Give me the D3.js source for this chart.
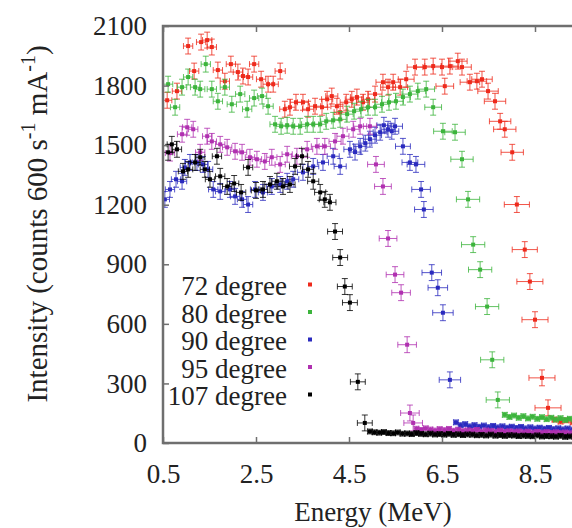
<!DOCTYPE html>
<html>
<head>
<meta charset="utf-8">
<script src="https://cdn.jsdelivr.net/npm/d3@7"></script>
<style>
  body { margin: 0; background: #fff; }
  svg { display: block; }
  text { font-family: "Liberation Serif", "Times New Roman", serif; fill: #222; }
</style>
</head>
<body>
<svg id="chart" width="572" height="528"></svg>
<script>
// Spectra: [energy (MeV), intensity, energy half-width (MeV)]
const deg72 = [
  [0.59,1726,0.10],[0.80,1772,0.10],[1.04,1999,0.10],[1.17,1873,0.10],[1.32,2019,0.10],
  [1.45,2029,0.10],[1.55,1994,0.10],[1.68,1878,0.10],[1.83,1822,0.10],[1.96,1908,0.10],
  [2.11,1868,0.10],[2.22,1848,0.10],[2.33,1843,0.10],[2.46,1908,0.10],[2.61,1832,0.10],
  [2.76,1807,0.11],[2.87,1807,0.11],[3.02,1873,0.11],[3.12,1681,0.11],[3.23,1691,0.11],
  [3.36,1716,0.12],[3.51,1716,0.12],[3.62,1681,0.12],[3.77,1696,0.12],[3.92,1691,0.12],
  [4.03,1731,0.12],[4.13,1747,0.13],[4.24,1696,0.13],[4.31,1666,0.13],[4.44,1716,0.13],
  [4.56,1731,0.14],[4.67,1742,0.14],[4.80,1716,0.14],[4.91,1731,0.14],[5.06,1757,0.15],
  [5.23,1817,0.15],[5.34,1792,0.16],[5.45,1817,0.16],[5.60,1792,0.16],[5.73,1832,0.17],
  [5.92,1893,0.17],[6.13,1893,0.18],[6.31,1898,0.18],[6.50,1893,0.19],[6.56,1797,0.19],
  [6.67,1898,0.19],[6.84,1923,0.20],[6.93,1893,0.20],[7.10,1817,0.21],[7.25,1822,0.21],
  [7.36,1832,0.22],[7.49,1772,0.22],[7.64,1721,0.23],[7.75,1620,0.23],[7.85,1580,0.24],
  [8.01,1464,0.24],[8.11,1201,0.27],[8.28,974,0.27],[8.39,813,0.28],[8.50,621,0.28],
  [8.65,328,0.28],[8.78,177,0.28]
];
const deg80 = [
  [0.61,1807,0.10],[0.76,1691,0.10],[0.91,1792,0.10],[1.04,1843,0.10],[1.19,1792,0.10],
  [1.30,1782,0.10],[1.42,1908,0.10],[1.55,1782,0.10],[1.68,1721,0.10],[1.83,1792,0.10],
  [1.98,1706,0.10],[2.16,1757,0.10],[2.31,1681,0.10],[2.46,1737,0.10],[2.63,1747,0.10],
  [2.76,1696,0.11],[2.91,1605,0.11],[3.04,1595,0.11],[3.17,1600,0.11],[3.30,1595,0.12],
  [3.45,1595,0.12],[3.60,1605,0.12],[3.73,1605,0.12],[3.88,1605,0.12],[4.01,1620,0.12],
  [4.16,1625,0.13],[4.31,1630,0.13],[4.46,1656,0.13],[4.61,1671,0.14],[4.76,1681,0.14],
  [4.91,1691,0.14],[5.06,1691,0.15],[5.21,1706,0.15],[5.36,1716,0.16],[5.51,1721,0.16],
  [5.66,1742,0.16],[5.81,1757,0.17],[5.98,1772,0.17],[6.16,1782,0.18],[6.31,1691,0.18],
  [6.52,1570,0.20],[6.78,1565,0.22],[6.93,1429,0.24],[7.06,1227,0.25],[7.17,999,0.25],
  [7.32,873,0.25],[7.47,687,0.25],[7.58,419,0.25],[7.70,217,0.25]
];
const deg90 = [
  [0.54,1227,0.10],[0.65,1277,0.10],[0.78,1328,0.10],[0.91,1318,0.10],[0.97,1388,0.10],
  [1.08,1413,0.10],[1.23,1413,0.10],[1.36,1403,0.10],[1.47,1378,0.10],[1.58,1277,0.10],
  [1.73,1267,0.10],[1.94,1277,0.10],[2.05,1242,0.10],[2.20,1227,0.10],[2.33,1201,0.10],
  [2.48,1277,0.10],[2.65,1262,0.10],[2.84,1292,0.11],[3.02,1302,0.11],[3.17,1318,0.11],
  [3.30,1328,0.12],[3.51,1363,0.12],[3.73,1393,0.12],[3.94,1413,0.12],[4.16,1444,0.13],
  [4.31,1393,0.13],[4.52,1479,0.13],[4.63,1465,0.13],[4.74,1494,0.14],[4.85,1510,0.14],
  [4.95,1530,0.14],[5.06,1550,0.14],[5.17,1565,0.15],[5.25,1600,0.15],[5.34,1580,0.15],
  [5.42,1570,0.15],[5.49,1595,0.16],[5.66,1494,0.16],[5.81,1413,0.17],[5.94,1403,0.19],
  [6.05,1277,0.20],[6.11,1176,0.20],[6.28,858,0.21],[6.41,782,0.21],[6.52,656,0.22],
  [6.67,318,0.23]
];
const deg95 = [
  [0.65,1460,0.10],[0.91,1555,0.10],[1.02,1590,0.10],[1.15,1580,0.10],[1.30,1464,0.10],
  [1.45,1545,0.10],[1.55,1519,0.10],[1.73,1504,0.10],[1.88,1489,0.10],[2.05,1469,0.10],
  [2.20,1464,0.10],[2.37,1439,0.10],[2.52,1429,0.10],[2.69,1418,0.10],[2.84,1439,0.11],
  [3.02,1403,0.11],[3.17,1454,0.11],[3.38,1444,0.12],[3.60,1479,0.12],[3.81,1494,0.12],
  [3.98,1494,0.12],[4.20,1519,0.13],[4.37,1545,0.13],[4.59,1580,0.13],[4.74,1595,0.14],
  [4.95,1595,0.14],[5.08,1403,0.18],[5.23,1292,0.18],[5.34,1030,0.19],[5.49,848,0.19],
  [5.62,757,0.20],[5.75,495,0.20],[5.81,151,0.20],[5.88,101,0.20]
];
const deg107 = [
  [0.61,1464,0.10],[0.69,1504,0.10],[0.80,1479,0.10],[0.93,1368,0.10],[1.04,1378,0.10],
  [1.19,1413,0.10],[1.30,1439,0.10],[1.40,1378,0.10],[1.51,1328,0.10],[1.66,1444,0.10],
  [1.73,1343,0.10],[1.88,1292,0.10],[2.03,1307,0.10],[2.18,1262,0.10],[2.33,1388,0.10],
  [2.50,1272,0.10],[2.65,1277,0.10],[2.80,1302,0.11],[2.95,1318,0.11],[3.08,1292,0.11],
  [3.23,1302,0.11],[3.34,1393,0.12],[3.49,1444,0.12],[3.62,1378,0.12],[3.73,1318,0.12],
  [3.88,1262,0.12],[3.98,1227,0.12],[4.09,1212,0.13],[4.20,1065,0.16],[4.31,934,0.16],
  [4.41,788,0.16],[4.52,707,0.16],[4.69,308,0.16],[4.84,101,0.16]
];

// Low-intensity high-energy tails: [energy, intensity]
const tail72 = [[8.92,118],[9.05,108],[9.18,114],[9.31,104],[9.44,110]];
const tail80 = [
  [7.85,142],[7.95,131],[8.05,138],[8.15,127],[8.25,135],[8.35,124],[8.45,132],[8.55,122],
  [8.65,130],[8.75,120],[8.85,127],[8.95,118],[9.05,125],[9.15,116],[9.25,122],[9.35,114],[9.45,120]
];
const tail90 = [
  [6.80,104],[6.90,90],[7.00,95],[7.10,84],[7.20,90],[7.30,82],[7.40,88],[7.50,80],[7.60,86],
  [7.70,79],[7.80,84],[7.90,77],[8.00,82],[8.10,76],[8.20,81],[8.30,74],[8.40,79],[8.50,73],
  [8.60,77],[8.70,72],[8.80,76],[8.90,70],[9.00,74],[9.10,69],[9.20,73],[9.30,68],[9.40,71]
];
const tail95 = [
  [5.95,72],[6.05,66],[6.15,74],[6.25,68],[6.35,63],[6.45,70],[6.55,65],[6.65,71],[6.75,62],
  [6.85,67],[6.95,60],[7.05,64],[7.15,61],[7.25,66],[7.35,58],[7.45,63],[7.55,60],[7.65,57],
  [7.75,62],[7.85,56],[7.95,59],[8.05,55],[8.15,58],[8.25,54],[8.35,57],[8.45,53],[8.55,56],
  [8.65,52],[8.75,55],[8.85,51],[8.95,54],[9.05,50],[9.15,53],[9.25,49],[9.35,52],[9.45,48]
];
const tail107 = [
  [4.95,58],[5.05,54],[5.15,52],[5.25,55],[5.35,50],[5.45,49],[5.55,53],[5.65,47],[5.75,48],
  [5.85,45],[5.95,50],[6.05,46],[6.15,44],[6.25,47],[6.35,43],[6.45,45],[6.55,42],[6.65,46],
  [6.75,41],[6.85,44],[6.95,40],[7.05,43],[7.15,42],[7.25,39],[7.35,41],[7.45,38],[7.55,42],
  [7.65,37],[7.75,40],[7.85,36],[7.95,39],[8.05,38],[8.15,35],[8.25,37],[8.35,36],[8.45,34],
  [8.55,38],[8.65,33],[8.75,35],[8.85,34],[8.95,32],[9.05,36],[9.15,31],[9.25,33],[9.35,32],[9.45,30]
];

const seriesNames = ["72 degree", "80 degree", "90 degree", "95 degree", "107 degree"];
const seriesColors = ["#ee2a1c", "#3cb43c", "#2a2abe", "#b030b0", "#000000"];
const seriesMain = [deg72, deg80, deg90, deg95, deg107];
const seriesTail = [tail72, tail80, tail90, tail95, tail107];
const countErr = 40;      // intensity half-width of the error bars
const tailEnergyErr = 0.05;
const tailCountErr = 12;

const xTicks = [0.5, 2.5, 4.5, 6.5, 8.5];
const yTicks = [0, 300, 600, 900, 1200, 1500, 1800, 2100];

const svg = d3.select("#chart");
const plotLeft = 163, plotRight = 628, plotTop = 26, plotBottom = 443;
const x = d3.scaleLinear().domain([0.5, 10.5]).range([plotLeft, plotRight]);
const y = d3.scaleLinear().domain([0, 2100]).range([plotBottom, plotTop]);

svg.append("defs").append("clipPath").attr("id", "plotClip")
  .append("rect").attr("x", plotLeft).attr("y", plotTop)
  .attr("width", plotRight - plotLeft).attr("height", plotBottom - plotTop);

// data with error bars
const plot = svg.append("g").attr("clip-path", "url(#plotClip)");
const cap = 3;

function drawPoint(g, e, v, de, dv, color) {
  const cx = x(e), cy = y(v);
  const x0 = x(e - de), x1 = x(e + de);
  const y0 = y(v - dv), y1 = y(v + dv);
  const p = d3.path();
  p.moveTo(x0, cy); p.lineTo(x1, cy);
  p.moveTo(x0, cy - cap); p.lineTo(x0, cy + cap);
  p.moveTo(x1, cy - cap); p.lineTo(x1, cy + cap);
  p.moveTo(cx, y0); p.lineTo(cx, y1);
  p.moveTo(cx - cap, y0); p.lineTo(cx + cap, y0);
  p.moveTo(cx - cap, y1); p.lineTo(cx + cap, y1);
  g.append("path").attr("d", p.toString()).attr("fill", "none")
    .attr("stroke", color).attr("stroke-width", 1).attr("stroke-opacity", 0.8);
  g.append("rect").attr("x", cx - 2).attr("y", cy - 2).attr("width", 4).attr("height", 4).attr("fill", color);
}

seriesMain.forEach((rows, i) => {
  const g = plot.append("g").attr("class", "series");
  const color = seriesColors[i];
  rows.forEach(r => drawPoint(g, r[0], r[1], r[2], countErr, color));
  seriesTail[i].forEach(r => drawPoint(g, r[0], r[1], tailEnergyErr, tailCountErr, color));
});

// frame
svg.append("rect").attr("x", plotLeft).attr("y", plotTop)
  .attr("width", plotRight - plotLeft).attr("height", plotBottom - plotTop)
  .attr("fill", "none").attr("stroke", "#6f6f6f").attr("stroke-width", 2.5);

const fontSize = 27;
const serif = "'Liberation Serif', 'Times New Roman', serif";

// axes with inward ticks
const gx = svg.append("g").attr("transform", `translate(0,${plotBottom})`)
  .call(d3.axisBottom(x).tickValues(xTicks).tickSize(-6).tickPadding(21).tickFormat(d3.format(".1f")));
const gxTop = svg.append("g").attr("transform", `translate(0,${plotTop})`)
  .call(d3.axisTop(x).tickValues(xTicks).tickSize(-6).tickFormat(""));
const gy = svg.append("g").attr("transform", `translate(${plotLeft},0)`)
  .call(d3.axisLeft(y).tickValues(yTicks).tickSize(-6).tickPadding(16).tickFormat(d3.format("d")));

[gx, gxTop, gy].forEach(g => {
  g.select(".domain").remove();
  g.selectAll(".tick line").attr("stroke", "#6f6f6f").attr("stroke-width", 1.5);
  g.selectAll(".tick text").attr("font-size", fontSize).attr("font-family", serif).attr("fill", "#222");
});

// axis titles
svg.append("text").attr("x", 373).attr("y", 521).attr("text-anchor", "middle")
  .attr("font-size", fontSize).text("Energy (MeV)");

const yl = svg.append("text").attr("transform", "translate(47,224) rotate(-90)")
  .attr("text-anchor", "middle").attr("font-size", 29);
yl.append("tspan").text("Intensity (counts 600 s");
yl.append("tspan").attr("font-size", 20).attr("dy", -12).text("-1");
yl.append("tspan").attr("dy", 12).text(" mA");
yl.append("tspan").attr("font-size", 20).attr("dy", -12).text("-1");
yl.append("tspan").attr("dy", 12).text(")");

// legend
const legend = svg.append("g");
seriesNames.forEach((name, i) => {
  const base = 295 + i * 27.5;
  legend.append("text").attr("x", 287).attr("y", base).attr("text-anchor", "end")
    .attr("font-size", fontSize).text(name);
  legend.append("rect").attr("x", 308).attr("y", base - 12.5).attr("width", 4).attr("height", 4)
    .attr("fill", seriesColors[i]);
});
</script>
</body>
</html>
